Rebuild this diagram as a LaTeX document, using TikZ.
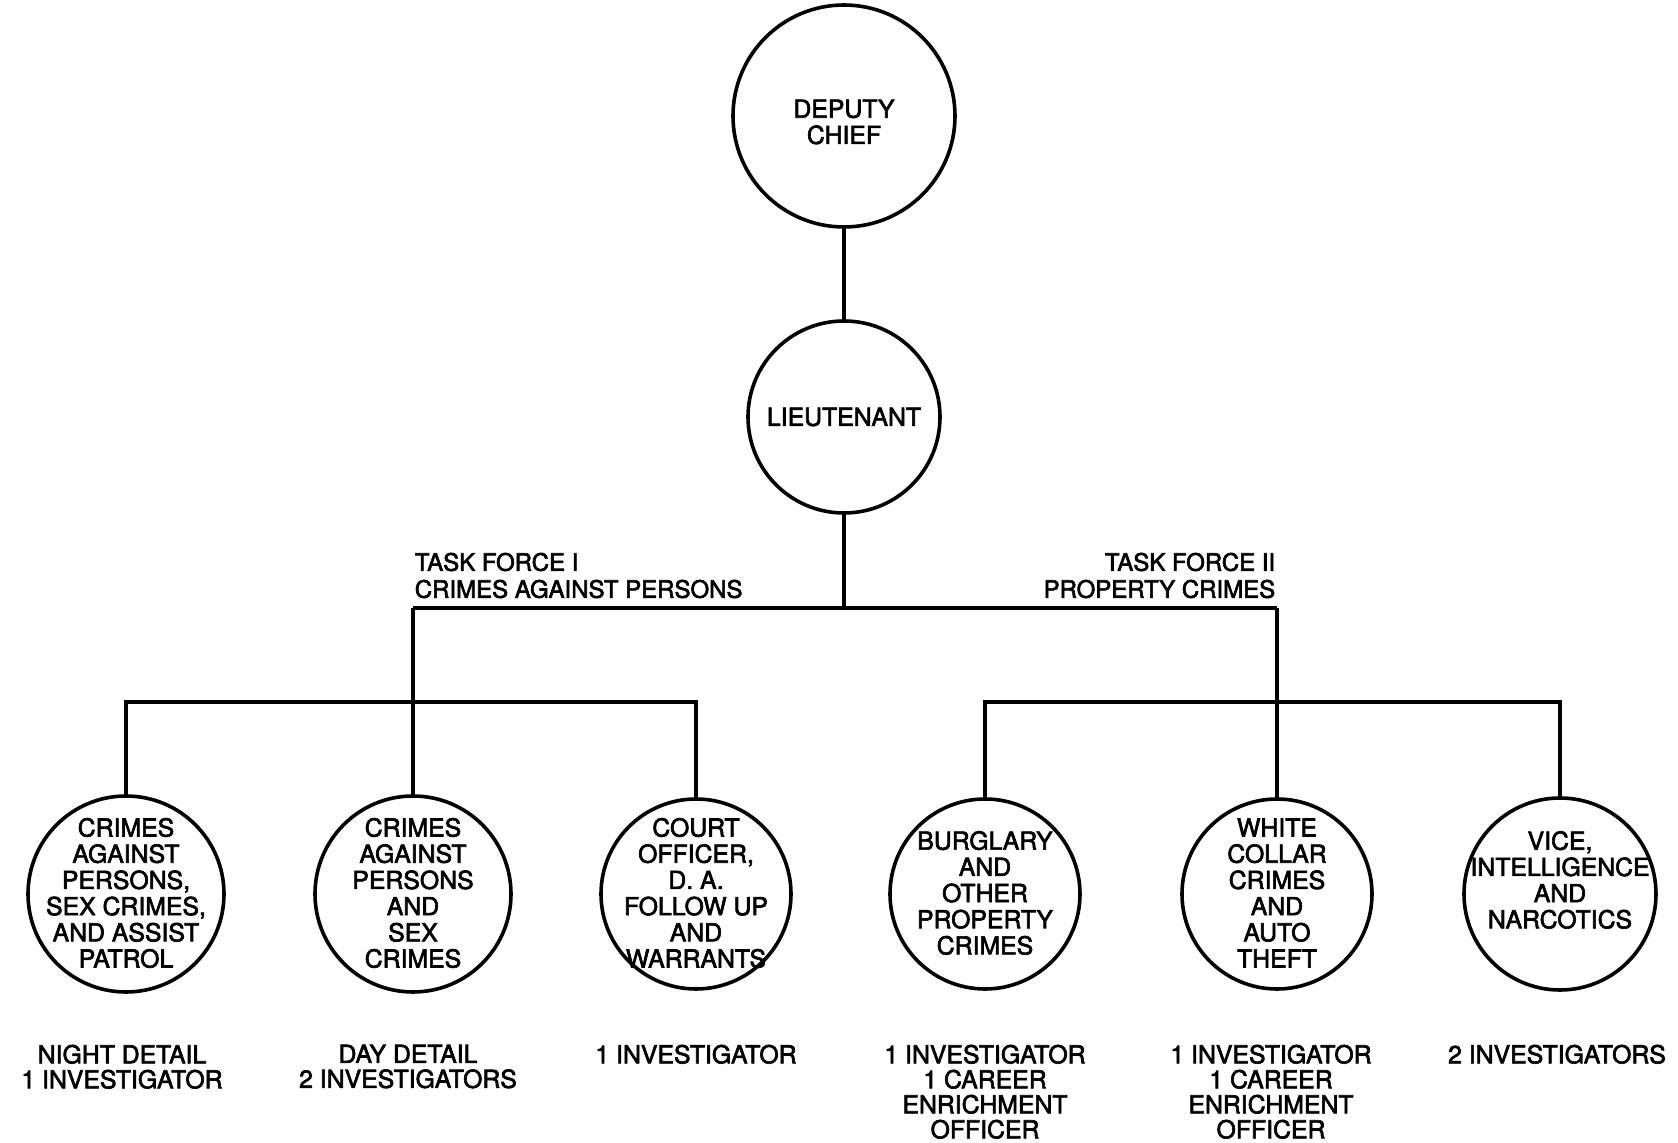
\documentclass[tikz,border=0pt]{standalone}
\usepackage{fontspec}
\setmainfont[FakeBold=2.5]{TeX Gyre Heros}
\begin{document}
\begin{tikzpicture}[x=0.5pt,y=-0.5pt,line width=1.8pt,
  orgcircle/.style={draw,circle,inner sep=0pt,minimum size=#1},
  circletext/.style={align=center,inner sep=0pt,font=\fontsize{12.4}{13.1}\selectfont},
  tflabel/.style={inner sep=0pt,font=\fontsize{12}{13.5}\selectfont},
  staff/.style={align=center,inner sep=0pt,anchor=north,font=\fontsize{12.4}{12.5}\selectfont}]
\useasboundingbox (0,0) rectangle (1678,1143);

% command chain (circle sizes: diameter in px times 0.5pt)
\node[orgcircle=111pt] (dep) at (844,116) {};
\node[circletext] (dept) at (844,122) {DEPUTY\\CHIEF};
\node[orgcircle=96pt] (lt) at (844,417) {};
\node[circletext] (ltt) at (844,417) {LIEUTENANT};

% task force branch points
\coordinate (j1) at (844,608);
\coordinate (tfL) at (413,608);
\coordinate (tfR) at (1277,608);
\coordinate (bL) at (413,702);
\coordinate (bR) at (1277,702);

\node[tflabel,anchor=south west,align=left] (tf1) at (413,600) {TASK FORCE I\\CRIMES AGAINST PERSONS};
\node[tflabel,anchor=south east,align=right] (tf2) at (1277,600) {TASK FORCE II\\PROPERTY CRIMES};

% units
\node[orgcircle=98pt] (c1) at (126,894) {};
\node[circletext] (c1t) at (126,893) {CRIMES\\AGAINST\\PERSONS,\\SEX CRIMES,\\AND ASSIST\\PATROL};
\node[orgcircle=98pt] (c2) at (413,894) {};
\node[circletext] (c2t) at (413,893) {CRIMES\\AGAINST\\PERSONS\\AND\\SEX\\CRIMES};
\node[orgcircle=95pt] (c3) at (696,894) {};
\node[circletext] (c3t) at (696,893) {COURT\\OFFICER,\\D. A.\\FOLLOW UP\\AND\\WARRANTS};
\node[orgcircle=95pt] (c4) at (985,894) {};
\node[circletext] (c4t) at (985,893) {BURGLARY\\AND\\OTHER\\PROPERTY\\CRIMES};
\node[orgcircle=95pt] (c5) at (1277,894) {};
\node[circletext] (c5t) at (1277,893) {WHITE\\COLLAR\\CRIMES\\AND\\AUTO\\THEFT};
\node[orgcircle=96pt] (c6) at (1560,894) {};
\node[circletext] (c6t) at (1560,880) {VICE,\\INTELLIGENCE\\AND\\NARCOTICS};

% staffing
\node[staff] (s1) at (122,1043) {NIGHT DETAIL\\1 INVESTIGATOR};
\node[staff] (s2) at (408,1043) {DAY DETAIL\\2 INVESTIGATORS};
\node[staff] (s3) at (696,1043) {1 INVESTIGATOR};
\node[staff] (s4) at (985,1043) {1 INVESTIGATOR\\1 CAREER\\ENRICHMENT\\OFFICER};
\node[staff] (s5) at (1271,1043) {1 INVESTIGATOR\\1 CAREER\\ENRICHMENT\\OFFICER};
\node[staff] (s6) at (1557,1043) {2 INVESTIGATORS};

% connectors
\draw (dep) -- (lt);
\draw (lt) -- (j1);
\draw (tfL) -- (tfR);
\draw (tfL) -- (c2);
\draw (tfR) -- (c5);
\draw (c1.north) |- (bL) -| (c3.north);
\draw (c4.north) |- (bR) -| (c6.north);
\end{tikzpicture}
\end{document}
